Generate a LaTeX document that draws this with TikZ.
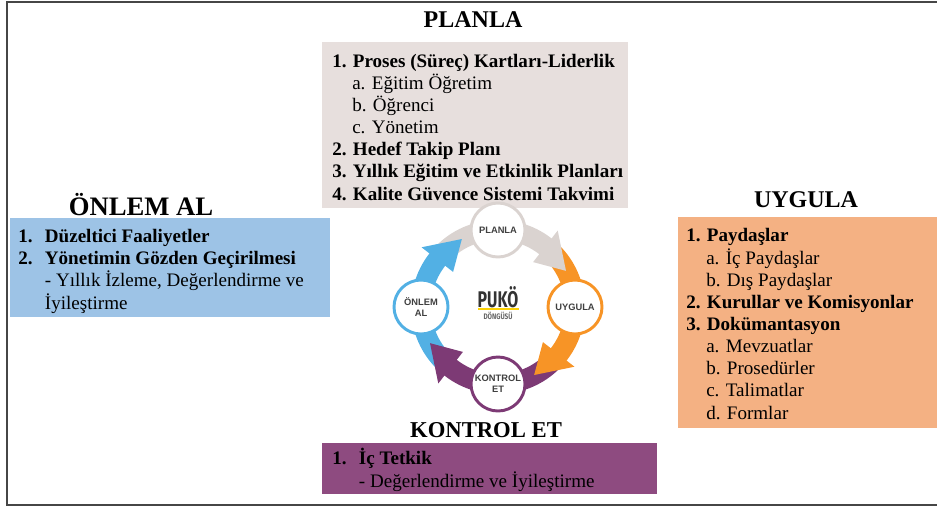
\documentclass[tikz,border=0pt]{standalone}
\usepackage{fontspec}
\setmainfont{Liberation Serif}
\newfontfamily\cyclefont{Liberation Sans}
\newfontfamily\pukofont{Fira Sans}
\usetikzlibrary{positioning}

\definecolor{planlagray}{RGB}{231,223,221}
\definecolor{onlemblue}{RGB}{157,195,230}
\definecolor{uygulaorange}{RGB}{244,177,131}
\definecolor{kontrolpurple}{RGB}{142,75,128}
\definecolor{arrowgray}{RGB}{218,211,208}
\definecolor{arroworange}{RGB}{247,148,38}
\definecolor{arrowpurple}{RGB}{125,58,117}
\definecolor{arrowblue}{RGB}{82,176,228}
\definecolor{framegray}{RGB}{70,70,70}

\newcommand{\itemno}[1]{\makebox[20pt][l]{#1}}
\newcommand{\subind}{\hspace*{15pt}}
\newcommand{\cycleband}[2]{\fill[#1] ({#2+45}:87) arc ({#2+45}:{#2-40}:87) -- ({#2-40}:67) arc ({#2-40}:{#2+45}:67) -- cycle;}
\newcommand{\cyclehead}[2]{\fill[#1] ({#2-38}:97) -- ({#2-62}:77) -- ({#2-38}:57) -- cycle;}

\begin{document}
\begin{tikzpicture}[x=0.75pt,y=-0.75pt]
\tikzstyle{every node}+=[inner sep=0pt]
\tikzstyle{title}=[font=\fontsize{18}{20}\selectfont\bfseries]
% base anchor of a multi-line node sits on its last line
\tikzstyle{listtext}=[anchor=base west,align=left,font=\fontsize{14.3}{16.6}\selectfont]
\tikzstyle{stepcircle}=[circle,fill=white,line width=2.2pt,minimum size=40.5pt,
  font=\cyclefont\fontsize{7}{8}\selectfont\bfseries,text=black!75,align=center]
\useasboundingbox (0,0) rectangle (937,508);
\draw [framegray,line width=1.1pt] (937,2) -- (7,2) -- (7,505) -- (937,505);

% boxes
\node [fill=planlagray,minimum width=229.5pt,minimum height=124.5pt] (planlabox) at (475,125) {};
\node [fill=onlemblue,minimum width=240pt,minimum height=74.25pt] (onlembox) at (170,267.5) {};
\node [fill=uygulaorange,minimum width=194.25pt,minimum height=158.25pt] (uygulabox) at (807.5,322.5) {};
\node [fill=kontrolpurple,minimum width=251.25pt,minimum height=38.25pt] (kontrolbox) at (489.5,468.5) {};

% titles
\node [title] (planlatitle) at (473,20) {PLANLA};
\node [title,font=\fontsize{20}{22}\selectfont\bfseries] (onlemtitle) at (141,205) {ÖNLEM AL};
\node [title] (uygulatitle) at (806,200) {UYGULA};
\node [title,font=\fontsize{17}{20}\selectfont\bfseries] (kontroltitle) at (486,430) {KONTROL ET};

% lists
\node [listtext] (planlatext) at (332,200) {\textbf{1. Proses (Süreç) Kartları-Liderlik}\\
\subind a. Eğitim Öğretim\\
\subind b. Öğrenci\\
\subind c. Yönetim\\
\textbf{2. Hedef Takip Planı}\\
\textbf{3. Yıllık Eğitim ve Etkinlik Planları}\\
\textbf{4. Kalite Güvence Sistemi Takvimi}};
\node [listtext] (onlemtext) at (18,309) {\textbf{\itemno{1.}Düzeltici Faaliyetler}\\
\textbf{\itemno{2.}Yönetimin Gözden Geçirilmesi}\\
\hspace*{20pt}- Yıllık İzleme, Değerlendirme ve\\
\hspace*{20pt}İyileştirme};
\node [listtext] (uygulatext) at (686,419) {\textbf{1. Paydaşlar}\\
\subind a. İç Paydaşlar\\
\subind b. Dış Paydaşlar\\
\textbf{2. Kurullar ve Komisyonlar}\\
\textbf{3. Dokümantasyon}\\
\subind a. Mevzuatlar\\
\subind b. Prosedürler\\
\subind c. Talimatlar\\
\subind d. Formlar};
\node [listtext] (kontroltext) at (332,487) {\textbf{\itemno{1.}İç Tetkik}\\
\hspace*{20pt}- Değerlendirme ve İyileştirme};

% cycle
\begin{scope}[shift={(498,307)},yscale=-1]
\cycleband{arrowgray}{90}
\cycleband{arroworange}{0}
\cycleband{arrowpurple}{-90}
\cycleband{arrowblue}{180}
\cyclehead{arrowgray}{90}
\cyclehead{arroworange}{0}
\cyclehead{arrowpurple}{-90}
\cyclehead{arrowblue}{180}
\node [stepcircle,draw=arrowgray] (planlastep) at (90:77) {PLANLA};
\node [stepcircle,draw=arroworange] (uygulastep) at (0:77) {UYGULA};
\node [stepcircle,draw=arrowpurple] (kontrolstep) at (-90:77) {KONTROL\\ET};
\node [stepcircle,draw=arrowblue] (onlemstep) at (180:77) {ÖNLEM\\AL};
\node [font=\pukofont\fontsize{17}{17}\selectfont\bfseries,text=black!80] (puko) at (0,10) {\scalebox{0.7}[1]{PUKÖ}};
\draw [yellow!70!orange,line width=0.8pt] (-20,-2) -- (21,-2);
\node [font=\pukofont\fontsize{6}{6}\selectfont\bfseries,text=black!60,below=3pt of puko] (dongu) {\scalebox{0.8}[1]{DÖNGÜSÜ}};
\end{scope}
\end{tikzpicture}
\end{document}
